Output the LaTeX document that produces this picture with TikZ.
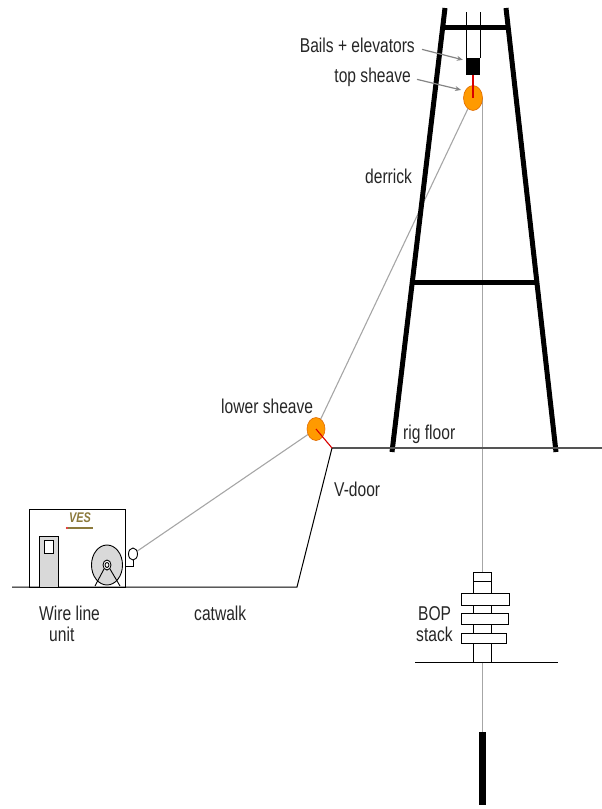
\documentclass[tikz,border=0pt]{standalone}
\usepackage{fontspec}
\setmainfont{Liberation Sans}[FakeStretch=0.78]
\usetikzlibrary{shapes.geometric,arrows.meta,calc,backgrounds}

\definecolor{wiregray}{HTML}{A6A6A6}
\definecolor{sheaveorange}{HTML}{FF9A00}
\definecolor{sheaveedge}{HTML}{E06A00}
\definecolor{vesolive}{HTML}{8C7A3C}
\definecolor{fillgray}{HTML}{D9D9D9}
\definecolor{floorgray}{HTML}{555555}

\begin{document}
\begin{tikzpicture}[x=1pt,y=-1pt,
  lbl/.style={font=\fontsize{20}{22}\selectfont, text=black!85, inner sep=0pt},
  leg/.style={line width=5pt},
  wire/.style={wiregray, line width=1.1pt},
  sheave/.style={ellipse, draw=sheaveedge, fill=sheaveorange, line width=0.6pt, inner sep=0pt},
  ground/.style={black, line width=1pt},
  pointer/.style={wiregray!80!black, line width=1.2pt, -{Stealth[length=6pt,width=5pt]}},
  redlink/.style={red!85!black, line width=1.1pt},
  bopbox/.style={draw, fill=white, line width=0.9pt},
  thin/.style={line width=0.9pt}
]
\useasboundingbox (0,0) rectangle (602,809);

% ---------- derrick ----------
\coordinate (dlt) at (445,8);   \coordinate (dlb) at (392,452);
\coordinate (drt) at (506,8);   \coordinate (drb) at (556,452);
\draw[leg] (dlt) -- (dlb);
\draw[leg] (drt) -- (drb);
\draw[leg] (442.5,27) -- (508.5,27);
\draw[leg] (412.3,282) -- (536.9,282);

% bails and elevator block
\draw[thin] (466,12) -- (466,58);
\draw[thin] (480,12) -- (480,58);
\node[fill=black, minimum width=14pt, minimum height=17pt, inner sep=0pt] (elev) at (473,66.5) {};

% sheaves
\node[sheave, minimum width=19pt, minimum height=25pt] (tops) at (473,98) {};
\node[sheave, minimum width=18pt, minimum height=23pt] (lows) at (316,429) {};

% rig floor, V-door and catwalk
\coordinate (vdoor) at (332,448);
\coordinate (catend) at (297,587);
\coordinate (catstart) at (12,587);
\draw[floorgray, line width=1.3pt] (vdoor) -- (602,448);
\draw[ground] (catstart) -- (catend) -- (vdoor);

% ---------- wire line unit ----------
\draw[thin] (29,509) rectangle (125,587);
\draw[thin, fill=fillgray] (39,536) rectangle (58,587);
\draw[thin, fill=white] (44,540) rectangle (53,553);
\node[font=\fontsize{14}{14}\selectfont\bfseries\itshape, text=vesolive, anchor=base, inner sep=0pt] (ves) at (80,522) {VES};
\draw[vesolive, line width=1.2pt] (68,528) -- (93,528);
\fill[red!85!black] (67,528) circle (1.2pt);
% reel
\draw[thin, fill=fillgray] (107,565) ellipse [x radius=15.5pt, y radius=20pt];
\draw[thin] (104,569) -- (95,586);
\draw[thin] (110,569) -- (120,586);
\draw[thin, fill=white] (107,565) ellipse [x radius=4pt, y radius=5pt];
\draw[thin] (107,565) ellipse [x radius=2pt, y radius=2.5pt];
% pulley on bracket
\node[ellipse, draw, thin, fill=white, minimum width=9pt, minimum height=12pt, inner sep=0pt] (pulley) at (133,554) {};
\draw[thin] (pulley.south) -- (133,566) -- (125,566);

% ---------- wire path ----------
\coordinate (tooltop) at (482.5,732);
\begin{scope}[on background layer]
  \draw[wire] (pulley) -- (lows.center) -- (tops.center);
  \draw[wire] (tops.east) -- (tops.east |- tooltop);
\end{scope}
\draw[redlink] (elev.south) -- (tops.center);
\draw[redlink] (lows.center) -- (vdoor);

% ---------- BOP stack ----------
\draw[bopbox] (473,572) rectangle (491,662);
\draw[thin] (473,581) -- (491,581);
\draw[bopbox] (461,593) rectangle (509,605);
\draw[bopbox] (461,613) rectangle (508,624);
\draw[bopbox] (461,633) rectangle (506,643);
\draw[ground] (415,662) -- (558,662);

% downhole tool
\coordinate (toolbot) at (482.5,805);
\draw[line width=7pt] (tooltop) -- (toolbot);

% ---------- labels ----------
\node[lbl, anchor=base east] (bailslbl) at (415,52) {Bails + elevators};
\node[lbl, anchor=base east] (toplbl) at (411,82) {top sheave};
\draw[pointer] ([xshift=7pt]bailslbl.mid east) -- ([xshift=-3pt,yshift=-2pt]elev.north west);
\draw[pointer] ([xshift=6pt]toplbl.mid east) -- ([xshift=-5pt,yshift=-1pt]tops.north west);
\node[lbl, anchor=base west] (derricklbl) at (365,183) {derrick};
\node[lbl, anchor=base west] (rigfloorlbl) at (403,439) {rig floor};
\node[lbl, anchor=base west] (lowerlbl) at (221,413) {lower sheave};
\node[lbl, anchor=base west] (vdoorlbl) at (334,496) {V-door};
\node[lbl, anchor=base west] (wirelbl) at (39,620) {Wire line};
\node[lbl, anchor=base west] (unitlbl) at (49,641) {unit};
\node[lbl, anchor=base west] (catwalklbl) at (194,620) {catwalk};
\node[lbl, anchor=base west] (boplbl) at (418,620) {BOP};
\node[lbl, anchor=base west] (stacklbl) at (416,641) {stack};
\end{tikzpicture}
\end{document}
